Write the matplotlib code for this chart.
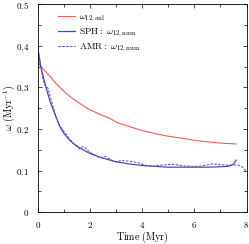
import matplotlib
matplotlib.use('Agg')
import matplotlib.pyplot as plt
from matplotlib.ticker import MultipleLocator

plt.rcParams['mathtext.fontset'] = 'cm'
plt.rcParams['font.family'] = 'serif'
plt.rcParams['font.serif'] = ['DejaVu Serif']

# analytic omega_12
t_anl = [0.0, 0.1, 0.25, 0.47, 0.7, 0.99, 1.24, 1.6, 1.98, 2.4, 2.78, 3.03, 3.5, 4.02, 4.5, 4.96, 5.5, 5.98, 6.5, 7.0, 7.6]
w_anl = [0.362, 0.352, 0.342, 0.327, 0.310, 0.292, 0.278, 0.262, 0.247, 0.235, 0.225, 0.216, 0.206, 0.196, 0.189, 0.183, 0.178, 0.173, 0.169, 0.166, 0.164]

# SPH numerical omega_12
t_sph = [0.0, 0.12, 0.25, 0.35, 0.5, 0.6, 0.75, 0.86, 1.0, 1.2, 1.37, 1.6, 2.0, 2.5, 3.0, 3.5, 4.0, 4.5, 5.0, 5.5, 6.0, 6.5, 7.0, 7.3, 7.5, 7.6]
w_sph = [0.398, 0.350, 0.318, 0.294, 0.262, 0.246, 0.222, 0.205, 0.190, 0.175, 0.165, 0.155, 0.141, 0.130, 0.121, 0.116, 0.112, 0.110, 0.108, 0.108, 0.108, 0.108, 0.109, 0.110, 0.115, 0.125]

# AMR numerical omega_12
t_amr = [0.0, 0.1, 0.2, 0.3, 0.4, 0.5, 0.65, 0.8, 1.0, 1.2, 1.4, 1.6, 1.75, 1.9, 2.1, 2.4, 2.6, 2.8, 3.0, 3.2, 3.6, 3.9, 4.1, 4.4, 4.7, 5.2, 5.6, 6.0, 6.3, 6.7, 7.0, 7.3, 7.5, 7.7, 7.85, 8.0]
w_amr = [0.400, 0.360, 0.320, 0.303, 0.298, 0.275, 0.240, 0.212, 0.195, 0.178, 0.163, 0.152, 0.158, 0.150, 0.140, 0.130, 0.134, 0.126, 0.121, 0.124, 0.122, 0.118, 0.113, 0.110, 0.113, 0.115, 0.111, 0.110, 0.111, 0.116, 0.114, 0.113, 0.113, 0.113, 0.108, 0.098]

x_ticks = [0, 2, 4, 6, 8]
y_ticks = [0, 0.1, 0.2, 0.3, 0.4, 0.5]
y_tick_labels = ['0', '0.1', '0.2', '0.3', '0.4', '0.5']

fig = plt.figure(figsize=(2.49, 2.44), dpi=100)
ax = fig.add_axes([0.151, 0.131, 0.839, 0.851])

red = '#f05a5a'
blue = '#4a4aae'
ax.plot(t_anl, w_anl, color=red, lw=0.8, label=r'$\omega_{12,\mathrm{anl}}$')
ax.plot(t_sph, w_sph, color=blue, lw=0.9, label=r'$\mathrm{SPH:}\ \omega_{12,\mathrm{num}}$')
ax.plot(t_amr, w_amr, color=blue, lw=0.7, ls=(0, (2.5, 1.5)), label=r'$\mathrm{AMR:}\ \omega_{12,\mathrm{num}}$')

ax.set_xlim(0, 8)
ax.set_ylim(0, 0.5)
ax.xaxis.set_minor_locator(MultipleLocator(1))
ax.yaxis.set_minor_locator(MultipleLocator(0.05))
ax.set_xticks(x_ticks)
ax.set_xticklabels(['$%d$' % v for v in x_ticks])
ax.set_yticks(y_ticks)
ax.set_yticklabels(['$%s$' % s for s in y_tick_labels])
ax.tick_params(which='both', direction='in', top=True, right=True, labelsize=6.5, pad=6)
ax.tick_params(which='major', length=3, width=0.5)
ax.tick_params(which='minor', length=2, width=0.5)
for s in ax.spines.values():
    s.set_linewidth(0.6)

# axis titles placed directly in figure coordinates
fig.text(0.571, 0.026, r'$\mathrm{Time\ (Myr)}$', fontsize=7.2, ha='center', va='center')
fig.text(0.038, 0.557, r'$\omega\ \mathrm{(Myr^{-1})}$', fontsize=7.2, ha='center', va='center',
         rotation=90)

ax.legend(loc='upper left', bbox_to_anchor=(0.073, 0.987), frameon=False, fontsize=6.8,
          borderpad=0, handlelength=1.8, handletextpad=0.5, labelspacing=0.25)

fig.savefig('out.png', dpi=100)
